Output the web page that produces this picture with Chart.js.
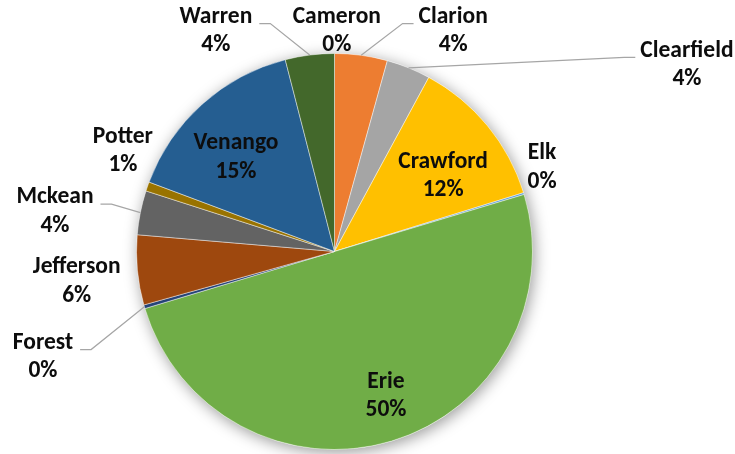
<!DOCTYPE html>
<html>
<head>
<meta charset="utf-8">
<script src="https://cdn.jsdelivr.net/npm/chart.js@4"></script>
<style>
  html, body { margin: 0; padding: 0; background: #ffffff; }
  #wrap { width: 735px; height: 454px; position: relative; }
</style>
</head>
<body>
<div id="wrap"><canvas id="c"></canvas></div>
<script>
// ---- data ----
const categories = ['Cameron', 'Clarion', 'Clearfield', 'Crawford', 'Elk', 'Erie', 'Forest', 'Jefferson', 'Mckean', 'Potter', 'Venango', 'Warren'];
const shares = [0, 4.3, 3.6, 12.3, 0.15, 50.0, 0.3, 5.7, 3.6, 0.75, 15.3, 4.0];
const sliceColors = ['#4472C4', '#ED7D31', '#A5A5A5', '#FFC000', '#5B9BD5', '#70AD47', '#264478', '#9E480E', '#636363', '#997300', '#255E91', '#43682B'];

// label layout: angle (deg clockwise from top) and distance (in radii) of the label block centre
const labelLayout = {
  Cameron:    { a: 0.6,   d: 1.114, leader: false },
  Clarion:    { a: 28.3,  d: 1.264, leader: true },
  Clearfield: { a: 62.1,  d: 2.014, leader: true },
  Crawford:   { a: 55.2,  d: 0.668, leader: false },
  Elk:        { a: 68.0,  d: 1.131, leader: false },
  Erie:       { a: 160.4, d: 0.775, leader: false },
  Forest:     { a: 250.1, d: 1.566, leader: true },
  Jefferson:  { a: 263.3, d: 1.311, leader: false },
  Mckean:     { a: 278.1, d: 1.426, leader: true },
  Potter:     { a: 295.4, d: 1.183, leader: false },
  Venango:    { a: 313.7, d: 0.688, leader: false },
  Warren:     { a: 331.7, d: 1.264, leader: true }
};

const FONT = 'bold 23.5px Carlito, Calibri, Lato, sans-serif';
const LINE_H = 28.5;

const shadowPlugin = {
  id: 'pieShadow',
  beforeDatasetsDraw(chart) {
    const meta = chart.getDatasetMeta(0);
    const el = meta.data.find(d => d);
    if (!el) return;
    const ctx = chart.ctx;
    ctx.save();
    ctx.shadowColor = 'rgba(0,0,0,0.4)';
    ctx.shadowBlur = 15;
    ctx.shadowOffsetX = 2;
    ctx.shadowOffsetY = 3;
    ctx.beginPath();
    ctx.arc(el.x, el.y, el.outerRadius, 0, Math.PI * 2);
    ctx.fillStyle = '#ffffff';
    ctx.fill();
    ctx.restore();
  }
};

const labelPlugin = {
  id: 'pieLabels',
  afterDatasetsDraw(chart) {
    const meta = chart.getDatasetMeta(0);
    const data = chart.data.datasets[0].data;
    const total = data.reduce((s, v) => s + v, 0);
    const ctx = chart.ctx;
    ctx.save();
    ctx.font = FONT;
    ctx.textAlign = 'center';
    ctx.textBaseline = 'middle';
    meta.data.forEach((arc, i) => {
      const name = chart.data.labels[i];
      const lay = labelLayout[name];
      const cx = arc.x, cy = arc.y, R = arc.outerRadius;
      const ang = lay.a * Math.PI / 180 - Math.PI / 2;
      const lx = cx + lay.d * R * Math.cos(ang);
      const ly = cy + lay.d * R * Math.sin(ang);
      const pct = Math.round(data[i] / total * 100) + '%';
      if (lay.leader) {
        const mid = (arc.startAngle + arc.endAngle) / 2;
        const ex = cx + R * Math.cos(mid);
        const ey = cy + R * Math.sin(mid);
        const w = Math.max(ctx.measureText(name).width, ctx.measureText(pct).width);
        const sy = ly - 7.5;
        let sx, hx;
        if (lx > cx) { sx = lx - w / 2 - 5; hx = sx - 11; }
        else { sx = lx + w / 2 + 7; hx = sx + 11; }
        ctx.beginPath();
        ctx.moveTo(sx, sy);
        ctx.lineTo(hx, sy);
        ctx.lineTo(ex, ey);
        ctx.strokeStyle = '#a6a6a6';
        ctx.lineWidth = 1.2;
        ctx.stroke();
      }
      ctx.fillStyle = '#0d0d0d';
      ctx.fillText(name, lx, ly - LINE_H / 2);
      ctx.fillText(pct, lx, ly + LINE_H / 2);
    });
    ctx.restore();
  }
};

new Chart(document.getElementById('c'), {
  type: 'pie',
  data: {
    labels: categories,
    datasets: [{
      data: shares,
      backgroundColor: sliceColors,
      borderColor: 'rgba(255,255,255,0.55)',
      borderWidth: 0.8
    }]
  },
  options: {
    responsive: true,
    maintainAspectRatio: false,
    animation: false,
    radius: 198,
    layout: { padding: { left: 130, right: 196, top: 50, bottom: 1 } },
    plugins: { legend: { display: false }, tooltip: { enabled: false } }
  },
  plugins: [shadowPlugin, labelPlugin]
});
</script>
</body>
</html>
